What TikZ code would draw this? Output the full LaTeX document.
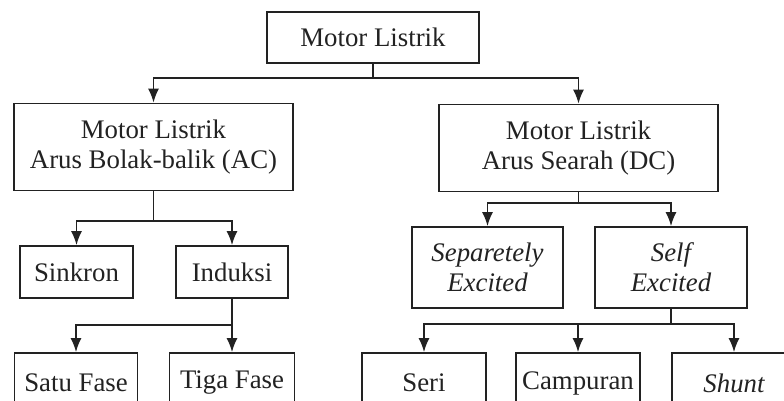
\documentclass[tikz,border=0pt]{standalone}
\usepackage{fontspec}
\setmainfont{Liberation Serif}
\usetikzlibrary{arrows.meta}
\definecolor{ink}{HTML}{222222}
\tikzset{
  box/.style={draw=ink, line width=1.7pt, inner sep=0pt, align=center, text=ink,
    font=\fontsize{26.8}{30}\selectfont},
  conn/.style={draw=ink, line width=1.7pt},
  arr/.style={conn, -{Latex[length=14pt,width=11pt]}}
}
\begin{document}
\begin{tikzpicture}[x=1pt,y=-1pt]
\clip (0,0) rectangle (784,401);
\fill[white] (0,0) rectangle (784,401);
\node[box, minimum width=212pt, minimum height=51pt] (top) at (373,37.5) {Motor Listrik};
\node[box, minimum width=279pt, minimum height=87pt] (ac) at (153.5,147) {Motor Listrik\\Arus Bolak-balik (AC)};
\node[box, minimum width=279pt, minimum height=87pt] (dc) at (578.5,148) {Motor Listrik\\Arus Searah (DC)};
\node[box, minimum width=113pt, minimum height=52pt] (sinkron) at (76.5,272) {Sinkron};
\node[box, minimum width=112pt, minimum height=52pt] (induksi) at (232,272) {Induksi};
\node[box, minimum width=151pt, minimum height=81pt] (sep) at (487.5,267.5) {\itshape Separetely\\\itshape Excited};
\node[box, minimum width=152pt, minimum height=81pt] (self) at (671,267.5) {\itshape Self\\\itshape Excited};
\node[box, minimum width=123pt, minimum height=60pt] (satu) at (76,383) {Satu Fase};
\node[box, minimum width=125pt, minimum height=60pt] (tiga) at (232,383) {Tiga Fase};
\node[box, minimum width=124pt, minimum height=60pt] (seri) at (424,383) {Seri};
\node[box, minimum width=124pt, minimum height=60pt] (camp) at (578,383) {Campuran};
\node[box, minimum width=124pt, minimum height=60pt] (shunt) at (734,383) {\itshape Shunt};
\coordinate (j1) at (373,78);
\coordinate (j2) at (153.5,221);
\coordinate (j3) at (578.5,203);
\coordinate (j4) at (232,325);
\coordinate (j5) at (671,324);
\draw[conn] (top.south) -- (j1);
\draw[arr] (j1) -| (ac.north);
\draw[arr] (j1) -| (dc.north);
\draw[conn] (ac.south) -- (j2);
\draw[arr] (j2) -| (sinkron.north);
\draw[arr] (j2) -| (induksi.north);
\draw[conn] (dc.south) -- (j3);
\draw[arr] (j3) -| (sep.north);
\draw[arr] (j3) -| (self.north);
\draw[conn] (induksi.south) -- (j4);
\draw[arr] (j4) -| (satu.north);
\draw[arr] (j4) -- (tiga.north);
\draw[conn] (self.south) -- (j5);
\draw[arr] (j5) -| (seri.north);
\draw[arr] (j5) -| (camp.north);
\draw[arr] (j5) -| (shunt.north);
\end{tikzpicture}
\end{document}
